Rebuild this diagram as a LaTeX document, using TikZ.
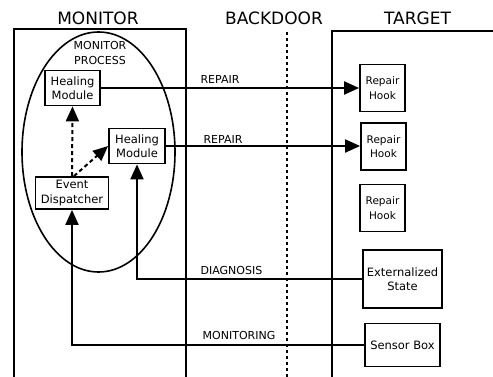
\documentclass[tikz,border=0pt]{standalone}
\usepackage{fontspec}
\setmainfont{DejaVu Sans}
\usetikzlibrary{arrows.meta,shapes.geometric}

\tikzset{
  box/.style={draw, line width=1.8pt, inner sep=0pt, align=center,
              font=\fontsize{11.5}{14.5}\selectfont},
  title/.style={font=\fontsize{17}{20}\selectfont},
  lbl/.style={font=\fontsize{11}{13}\selectfont, inner sep=0pt},
  wall/.style={line width=2pt},
  link/.style={line width=2pt, -{Triangle[length=15pt,width=13pt]}},
  dlink/.style={link, dash pattern=on 4pt off 3pt},
  hook/.style={box, minimum width=45pt, minimum height=47pt,
               font=\fontsize{10.5}{14.5}\selectfont}
}

\begin{document}
\begin{tikzpicture}[x=1pt, y=-1pt]
  \useasboundingbox (0,0) rectangle (493,377);

  % column titles
  \node[title] (tmon)  at (98,18)    {MONITOR};
  \node[title] (tback) at (274,18)   {BACKDOOR};
  \node[title] (ttgt)  at (417.5,18) {TARGET};

  % monitor and target frames, backdoor boundary
  \draw[wall] (14,377) -- (14,29) -- (186,29) -- (186,377);
  \draw[wall] (332,377) -- (332,31) -- (493,31);
  \draw[line width=2pt, dash pattern=on 3pt off 3pt] (287,32) -- (287,377);

  % monitor process
  \node[draw, ellipse, line width=1.6pt, minimum width=153pt, minimum height=240pt,
        inner sep=0pt] (proc) at (98.5,152) {};
  \node[lbl, align=center, font=\fontsize{11}{15}\selectfont] (ptitle) at (100,52.5) {MONITOR\\PROCESS};

  \node[box, minimum width=55pt, minimum height=35pt] (hm1) at (72.5,88) {Healing\\Module};
  \node[box, minimum width=56pt, minimum height=35pt] (hm2) at (137,146) {Healing\\Module};
  \node[box, minimum width=73pt, minimum height=32pt] (ed)  at (72,193) {Event\\Dispatcher};

  % target side
  \node[hook] (rh1) at (382.5,88) {Repair\\Hook};
  \node[hook] (rh2) at (383.5,146.5) {Repair\\Hook};
  \node[hook] (rh3) at (382.5,208) {Repair\\Hook};
  \node[box, minimum width=79pt, minimum height=58pt] (es) at (402.5,279) {Externalized\\State};
  \node[box, minimum width=75pt, minimum height=43pt] (sb) at (402.5,345) {Sensor Box};

  % dispatch inside the monitor process
  \draw[dlink] (ed.north) -- (hm1.south);
  \draw[dlink] ([xshift=2pt]ed.north) -- (hm2.west);

  % repair calls across the backdoor
  \draw[link] (hm1.east) -- (hm1.east -| rh1.west);
  \draw[link] (hm2.east) -- (hm2.east -| rh2.west);

  % diagnosis and monitoring feeds
  \draw[link] (es.west) -| (hm2.south);
  \draw[link] (sb.west) -| (ed.south);

  % connector labels
  \node[lbl] (lr1) at (220,79)    {REPAIR};
  \node[lbl] (lr2) at (223,139)   {REPAIR};
  \node[lbl] (ld)  at (231.5,270) {DIAGNOSIS};
  \node[lbl] (lm)  at (239,335)   {MONITORING};
\end{tikzpicture}
\end{document}
